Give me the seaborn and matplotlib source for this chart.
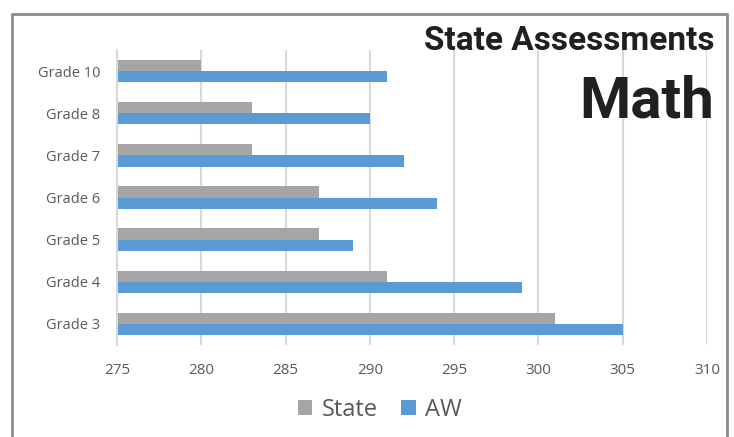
import matplotlib
matplotlib.use("Agg")
import matplotlib.pyplot as plt
import seaborn as sns
import pandas as pd
from matplotlib.lines import Line2D
from matplotlib.patches import Patch

grades = ["Grade 10", "Grade 8", "Grade 7", "Grade 6", "Grade 5", "Grade 4", "Grade 3"]
state_scores = [280, 283, 283, 287, 287, 291, 301]
aw_scores = [291, 290, 292, 294, 289, 299, 305]
series = ["State", "AW"]
x_ticks = [275, 280, 285, 290, 295, 300, 305, 310]

df = pd.DataFrame({
    "Grade": grades * 2,
    "Score": state_scores + aw_scores,
    "Series": ["State"] * len(grades) + ["AW"] * len(grades),
})

sns.set_theme(style="white")
plt.rcParams['font.family'] = ['Open Sans', 'DejaVu Sans']

W, H = 734, 437
fig = plt.figure(figsize=(W / 100, H / 100), dpi=100)
ax = fig.add_axes([117 / W, 1 - 345 / H, (707 - 117) / W, (345 - 50) / H])

palette = {"State": "#a5a5a5", "AW": "#5b9bd5"}
sns.barplot(data=df, y="Grade", x="Score", hue="Series", order=grades,
            hue_order=series, palette=palette, orient="h", width=0.53,
            saturation=1, linewidth=0, ax=ax, legend=False)

ax.set_xlim(275, 310)
ax.set_xticks(x_ticks)
ax.set_xticklabels([str(t) for t in x_ticks])
ax.grid(axis="x", color="#d9d9d9", linewidth=1.5)
ax.grid(axis="y", visible=False)
ax.set_axisbelow(True)
for s in ["top", "right", "bottom"]:
    ax.spines[s].set_visible(False)
ax.spines["left"].set_color("#d9d9d9")
ax.spines["left"].set_linewidth(1.5)
ax.set_xlabel("")
ax.set_ylabel("")
ax.tick_params(axis="x", length=0, pad=13, labelsize=11, labelcolor="#595959")
ax.tick_params(axis="y", length=0, pad=12, labelsize=10.5, labelcolor="#595959")

# Legend
handles = [Patch(facecolor=palette[s], edgecolor="none", label=s) for s in series]
fig.legend(handles=handles, loc="center", bbox_to_anchor=(380 / W, 1 - 410 / H),
           ncol=2, frameon=False, fontsize=17, labelcolor="#595959",
           handlelength=0.6, handleheight=0.6, handletextpad=0.4, columnspacing=1.0)

# Titles
fig.text(714 / W, 1 - 50 / H, "State Assessments", ha="right", va="baseline",
         fontsize=24, fontweight="bold", color="#231f20", family=["Roboto", "DejaVu Sans"])
fig.text(714 / W, 1 - 117 / H, "Math", ha="right", va="baseline",
         fontsize=42, fontweight="bold", color="#231f20", family=["Roboto", "DejaVu Sans"])

# Frame
fc = "#8c8c8c"
fig.add_artist(Line2D([12 / W, 12 / W], [0, 1 - 14 / H], color=fc, lw=2, transform=fig.transFigure))
fig.add_artist(Line2D([12 / W, 727 / W], [1 - 14 / H, 1 - 14 / H], color=fc, lw=2, transform=fig.transFigure))
fig.add_artist(Line2D([727 / W, 727 / W], [0, 1 - 14 / H], color=fc, lw=2, transform=fig.transFigure))

fig.savefig("out.png", dpi=100)
